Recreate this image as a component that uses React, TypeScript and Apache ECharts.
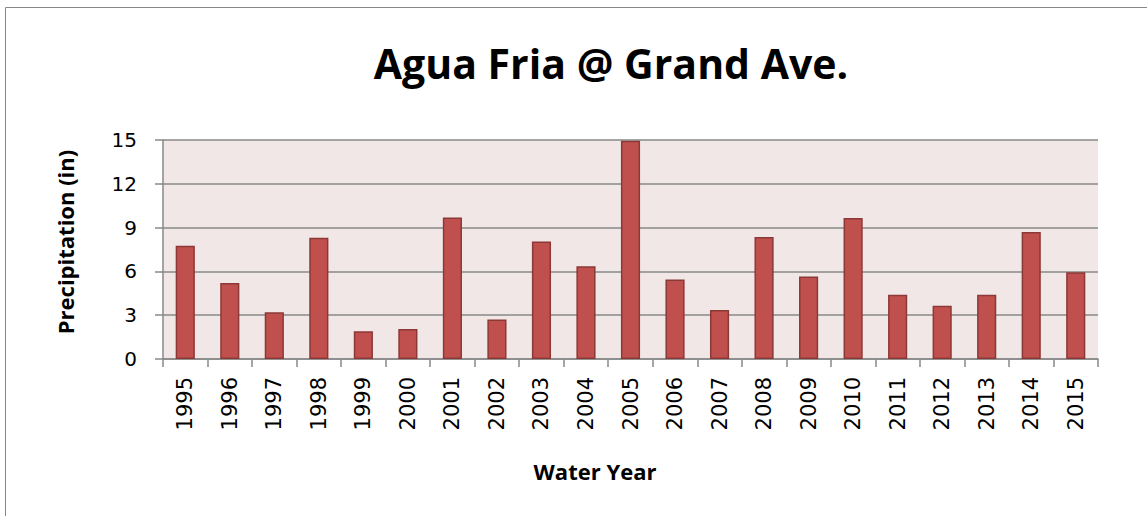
import React, { useEffect, useRef } from "react";
import * as echarts from "echarts";

const years = ["1995","1996","1997","1998","1999","2000","2001","2002","2003","2004","2005","2006","2007","2008","2009","2010","2011","2012","2013","2014","2015"];
const precipitation = [7.75, 5.2, 3.2, 8.3, 1.9, 2.05, 9.7, 2.7, 8.05, 6.35, 14.95, 5.45, 3.35, 8.35, 5.65, 9.65, 4.4, 3.65, 4.4, 8.7, 5.95];
const yTicks = [0, 3, 6, 9, 12, 15];
const chartTitle = "Agua Fria @ Grand Ave.";
const yName = "Precipitation (in)";
const xName = "Water Year";

const BOLD = "'Open Sans', Lato, sans-serif";
const TICK = "'DejaVu Sans', sans-serif";

export default function App() {
  const ref = useRef<HTMLDivElement>(null);
  useEffect(() => {
    const chart = echarts.init(ref.current!, null, { renderer: "svg" });
    chart.setOption({
      animation: false,
      backgroundColor: "#ffffff",
      title: {
        text: chartTitle,
        left: 606,
        textAlign: "center",
        top: 37,
        textStyle: { fontFamily: BOLD, fontSize: 41, fontWeight: "bold", color: "#000" },
      },
      graphic: [
        {
          type: "rect",
          shape: { x: 5.5, y: 7.5, width: 1160, height: 540 },
          style: { fill: "none", stroke: "#888888", lineWidth: 1 },
          silent: true,
        },
        {
          type: "text",
          x: 65,
          y: 242,
          rotation: Math.PI / 2,
          style: { text: yName, font: `bold 22px ${BOLD}`, fill: "#000", align: "center", verticalAlign: "middle" },
        },
        {
          type: "text",
          x: 595,
          y: 471,
          style: { text: xName, font: `bold 22px ${BOLD}`, fill: "#000", align: "center", verticalAlign: "middle" },
        },
      ],
      grid: { left: 163, right: 49, top: 140, bottom: 157, show: true, backgroundColor: "#F2E7E7", borderWidth: 0 },
      xAxis: {
        type: "category",
        data: years,
        axisLine: { lineStyle: { color: "#888888", width: 1.5 } },
        axisTick: { show: true, length: 8, lineStyle: { color: "#888888", width: 1.5 } },
        axisLabel: { rotate: 90, margin: 18, fontFamily: TICK, fontSize: 21, color: "#000" },
      },
      yAxis: {
        type: "value",
        min: yTicks[0],
        max: yTicks[yTicks.length - 1],
        interval: yTicks[1] - yTicks[0],
        axisLine: { show: true, lineStyle: { color: "#888888", width: 1.5 } },
        axisTick: { show: true, length: 8, lineStyle: { color: "#888888", width: 1.5 } },
        axisLabel: { margin: 26, fontFamily: TICK, fontSize: 20, color: "#000" },
        splitLine: { lineStyle: { color: "#888888", width: 1.5 } },
      },
      series: [
        {
          type: "bar",
          data: precipitation,
          barWidth: "43%",
          itemStyle: { color: "#C0504D", borderColor: "#8C3836", borderWidth: 1.5 },
        },
      ],
    });
    return () => chart.dispose();
  }, []);
  return <div ref={ref} style={{ position: "fixed", left: 0, top: 0, width: 1147, height: 516 }} />;
}
